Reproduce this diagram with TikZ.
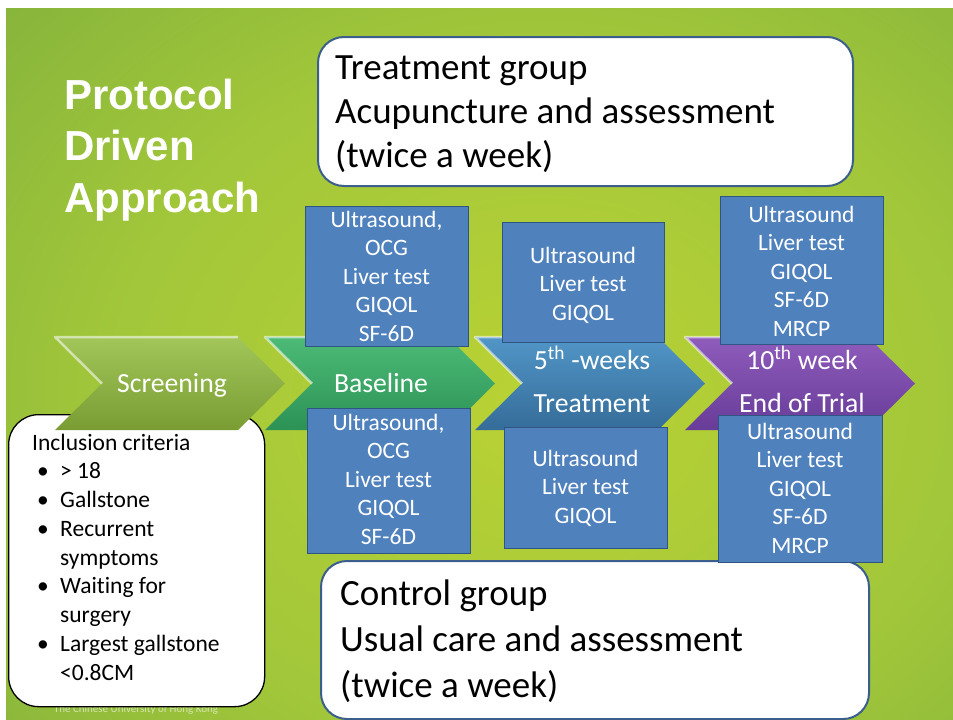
\documentclass[tikz,border=0pt]{standalone}
\usepackage{fontspec}
\setmainfont{Carlito}[Ligatures=NoCommon]
\newfontfamily\titlefont{Liberation Sans}
\definecolor{bgM}{HTML}{BAD234}
\definecolor{bgM2}{HTML}{A2C73A}
\definecolor{bgO}{HTML}{6BA23C}
\definecolor{boxfill}{HTML}{4F81BD}
\definecolor{boxline}{HTML}{2F5585}
\definecolor{grpline}{HTML}{3B5E8C}
\definecolor{scrT}{HTML}{A2C65A}
\definecolor{scrB}{HTML}{7A9D33}
\definecolor{basT}{HTML}{4CBB76}
\definecolor{basB}{HTML}{2C9256}
\definecolor{wkT}{HTML}{5196C7}
\definecolor{wkB}{HTML}{356C99}
\definecolor{endT}{HTML}{8F5CBC}
\definecolor{endB}{HTML}{683C99}
\pgfdeclareradialshading{bgrad}{\pgfpoint{0bp}{0bp}}{color(0bp)=(bgM); color(14bp)=(bgM2); color(34bp)=(bgO); color(50bp)=(bgO)}
\newcommand{\bul}{\makebox[28pt][l]{\hspace{5pt}•}}
\tikzset{
  bbox/.style={draw=boxline, fill=boxfill, line width=1.3pt, inner sep=0pt, anchor=north west},
  btext/.style={text=white, anchor=base, inner sep=0pt, font=\fontsize{23.5}{28.6}\selectfont},
  grpbox/.style={draw=grpline, fill=white, line width=2pt, rounded corners=26pt},
  grptext/.style={text=black, anchor=base west, inner sep=0pt},
  chevtext/.style={text=white, anchor=base, inner sep=0pt, font=\fontsize{27.7}{43}\selectfont},
  hilite/.style={draw=white, draw opacity=0.55, line width=2.5pt, line join=round}
}
\begin{document}
\begin{tikzpicture}[x=1pt,y=-1pt]
\useasboundingbox (0,0) rectangle (953,720);
\fill[white] (0,0) rectangle (953,720);
\begin{scope}
  \clip (6,8) rectangle (953,720);
  \fill[bgO] (6,8) rectangle (953,720);
  \shade[shading=bgrad] (540,400) ellipse (760 and 620);
\end{scope}

% title
\node[text=white, anchor=base west, inner sep=0pt, font=\titlefont\bfseries\fontsize{42}{51.5}\selectfont] (title) at (64,109)
  {\begin{tabular}[t]{@{}l@{}}Protocol\\Driven\\Approach\end{tabular}};

% footer
\node[text=white, text opacity=0.6, anchor=base, inner sep=0pt, font=\fontsize{11}{12}\selectfont] (foot) at (136,712) {The Chinese University of Hong Kong};

% inclusion criteria box
\node[draw=black, fill=white, line width=1.3pt, rounded corners=30pt, minimum width=256pt, minimum height=292pt, anchor=north west, inner sep=0pt] (incbox) at (8,414) {};

% chevrons
\foreach \L/\ct/\cb/\nm in {55/scrT/scrB/c1, 265/basT/basB/c2, 475/wkT/wkB/c3, 685/endT/endB/c4}{
  \shade[top color=\ct, bottom color=\cb] (\L,337) -- ({\L+183},337) -- ({\L+230},383.5) -- ({\L+183},430) -- (\L,430) -- ({\L+47},383.5) -- cycle;
  \draw[hilite] ({\L+47},383.5) -- (\L,337) -- ({\L+183},337);
}

\node[text=black, anchor=base west, inner sep=0pt, font=\fontsize{23.5}{28.75}\selectfont] (inctext) at (32,450)
  {\begin{tabular}[t]{@{}l@{}}Inclusion criteria\\ \bul > 18\\ \bul Gallstone\\ \bul Recurrent\\ \hspace*{28pt}symptoms\\ \bul Waiting for\\ \hspace*{28pt}surgery\\ \bul Largest gallstone\\ \hspace*{28pt}<0.8CM\end{tabular}};

\node[chevtext] (scr) at (172,392) {Screening};
\node[chevtext] (bas) at (381,392) {Baseline};
\node[chevtext] (wk) at (592,369) {\begin{tabular}[t]{@{}c@{}}5\textsuperscript{th} -weeks\\Treatment\end{tabular}};
\node[chevtext] (end) at (802,369) {\begin{tabular}[t]{@{}c@{}}10\textsuperscript{th} week\\End of Trial\end{tabular}};

% group boxes
\node[grpbox, minimum width=535pt, minimum height=149pt, anchor=north west, inner sep=0pt] (treat) at (317,36) {};
\node[grptext, font=\fontsize{37}{44}\selectfont] (treattxt) at (335,79)
  {\begin{tabular}[t]{@{}l@{}}Treatment group\\Acupuncture and assessment\\(twice a week)\end{tabular}};
\node[grpbox, minimum width=548pt, minimum height=158pt, anchor=north west, inner sep=0pt] (ctrl) at (320,560) {};
\node[grptext, font=\fontsize{37}{46}\selectfont] (ctrltxt) at (340,605)
  {\begin{tabular}[t]{@{}l@{}}Control group\\Usual care and assessment\\(twice a week)\end{tabular}};

% assessment boxes
\node[bbox, minimum width=163pt, minimum height=140pt] (b1) at (305,206) {};
\node[btext] (b1t) at (386.5,227) {\begin{tabular}[t]{@{}c@{}}Ultrasound,\\OCG\\Liver test\\GIQOL\\SF-6D\end{tabular}};
\node[bbox, minimum width=163pt, minimum height=145pt] (b2) at (307,408) {};
\node[btext] (b2t) at (388.5,430) {\begin{tabular}[t]{@{}c@{}}Ultrasound,\\OCG\\Liver test\\GIQOL\\SF-6D\end{tabular}};
\node[bbox, minimum width=162pt, minimum height=120pt] (b3) at (502,222) {};
\node[btext] (b3t) at (583,263) {\begin{tabular}[t]{@{}c@{}}Ultrasound\\Liver test\\GIQOL\end{tabular}};
\node[bbox, minimum width=163pt, minimum height=121pt] (b4) at (504,427) {};
\node[btext] (b4t) at (585.5,466) {\begin{tabular}[t]{@{}c@{}}Ultrasound\\Liver test\\GIQOL\end{tabular}};
\node[bbox, minimum width=163pt, minimum height=148pt] (b5) at (720,196) {};
\node[btext] (b5t) at (801.5,222) {\begin{tabular}[t]{@{}c@{}}Ultrasound\\Liver test\\GIQOL\\SF-6D\\MRCP\end{tabular}};
\node[bbox, minimum width=164pt, minimum height=147pt] (b6) at (718,415) {};
\node[btext] (b6t) at (800,439) {\begin{tabular}[t]{@{}c@{}}Ultrasound\\Liver test\\GIQOL\\SF-6D\\MRCP\end{tabular}};
\end{tikzpicture}
\end{document}
